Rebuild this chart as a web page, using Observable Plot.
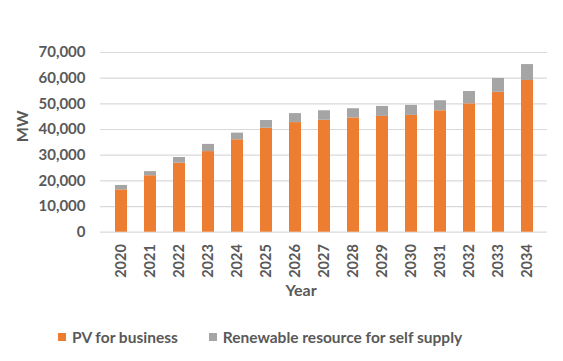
<!DOCTYPE html>
<html>
<head>
<meta charset="utf-8">
<script src="https://cdn.jsdelivr.net/npm/d3@7"></script>
<script src="https://cdn.jsdelivr.net/npm/@observablehq/plot@0.6"></script>
<style>
  html, body { margin: 0; padding: 0; background: #fff; }
  body { width: 563px; height: 361px; overflow: hidden; font-family: Lato, "DejaVu Sans", sans-serif; }
  #chart svg { display: block; }
  #chart svg text { font-family: Lato, "DejaVu Sans", sans-serif; font-weight: 700; }
  .legend { display: flex; align-items: center; padding-left: 58px; padding-top: 19px; height: 16px;
            font-size: 15.5px; font-weight: 700; color: #595959; line-height: 16px; }
  .legend .item { display: flex; align-items: center; }
  .legend .sw { width: 8px; height: 8px; margin-right: 6px; }
</style>
</head>
<body>
<div id="chart"></div>
<div class="legend" id="legend"></div>
<script>
const years = ["2020","2021","2022","2023","2024","2025","2026","2027","2028","2029","2030","2031","2032","2033","2034"];
const pvBusiness = [16500, 22000, 26900, 31400, 36000, 40500, 42700, 43600, 44500, 45100, 45500, 47300, 50000, 54500, 59100];
const selfSupply = [1700, 1600, 2200, 2800, 2600, 3000, 3500, 3700, 3600, 3900, 3900, 3900, 4800, 5400, 6200];
const seriesNames = ["PV for business", "Renewable resource for self supply"];
const seriesColors = ["#ED7D31", "#A5A5A5"];
const yTicks = [0, 10000, 20000, 30000, 40000, 50000, 60000, 70000];

const rows = [];
years.forEach((y, i) => {
  rows.push({year: y, series: seriesNames[0], value: pvBusiness[i]});
  rows.push({year: y, series: seriesNames[1], value: selfSupply[i]});
});

const textColor = "#595959";
const plot = Plot.plot({
  width: 563,
  height: 310,
  marginLeft: 100,
  marginRight: 16,
  marginTop: 52,
  marginBottom: 78.3,
  style: {fontSize: "15px", color: textColor, background: "#fff"},
  x: {type: "band", domain: years, paddingInner: 0.6, paddingOuter: 0.3, insetLeft: 2, insetRight: 1.5, label: null},
  y: {domain: [0, 70000], label: null},
  color: {domain: seriesNames, range: seriesColors},
  marks: [
    Plot.gridY(yTicks, {stroke: "#D9D9D9", strokeOpacity: 1, strokeWidth: 1.2}),
    Plot.barY(rows, {x: "year", y: "value", fill: "series", z: "series", order: seriesNames}),
    Plot.axisY(yTicks, {tickSize: 0, tickPadding: 15, tickFormat: d3.format(","), fill: textColor, fontSize: 15, label: null}),
    Plot.axisX({tickSize: 0, tickPadding: 12, tickRotate: -90, fill: textColor, fontSize: 14.5, label: null}),
    Plot.text(["Year"], {frameAnchor: "bottom", dy: 64, dx: -23, fill: textColor, fontSize: 16, fontWeight: 700}),
    Plot.text(["MW"], {frameAnchor: "left", dx: -78, rotate: -90, fill: textColor, fontSize: 16, fontWeight: 700})
  ]
});
document.getElementById("chart").appendChild(plot);

const legend = document.getElementById("legend");
seriesNames.forEach((name, i) => {
  const item = document.createElement("div");
  item.className = "item";
  if (i > 0) item.style.marginLeft = "31px";
  const sw = document.createElement("div");
  sw.className = "sw";
  sw.style.background = seriesColors[i];
  const label = document.createElement("span");
  label.textContent = name;
  item.appendChild(sw);
  item.appendChild(label);
  legend.appendChild(item);
});
</script>
</body>
</html>
